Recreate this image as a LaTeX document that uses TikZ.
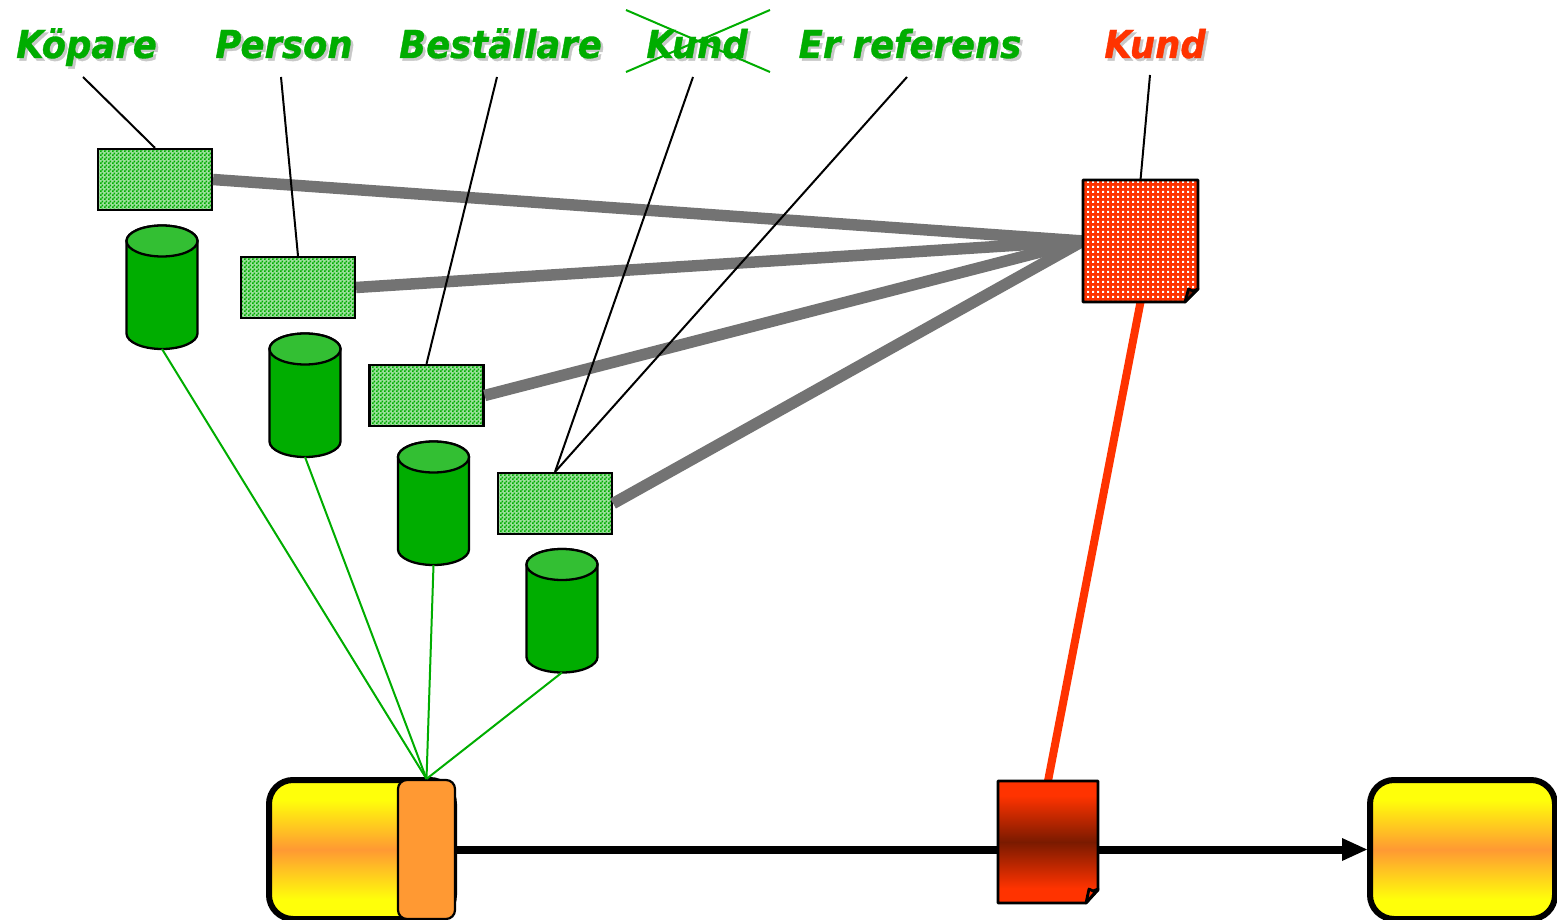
\documentclass[tikz,border=0pt]{standalone}
\usepackage{fontspec}
\newfontfamily\labfont[FakeStretch=0.92,FakeBold=0.9]{DejaVu Sans}
\usetikzlibrary{patterns}
\definecolor{gr}{HTML}{00AD00}
\definecolor{grt}{HTML}{33BF33}
\definecolor{rd}{HTML}{FF3300}
\definecolor{drk}{HTML}{7A1A00}
\definecolor{org}{HTML}{FF9933}
\definecolor{yel}{HTML}{FFFF0A}
\definecolor{gry}{HTML}{737373}
\definecolor{shad}{HTML}{C8C8C8}
\definecolor{paleg}{HTML}{9CE09C}
\pgfdeclareverticalshading{yobar}{100bp}{color(0bp)=(yel); color(32bp)=(yel); color(50bp)=(org); color(68bp)=(yel); color(100bp)=(yel)}
\pgfdeclareverticalshading{rdbar}{100bp}{color(0bp)=(rd); color(31bp)=(rd); color(50bp)=(drk); color(69bp)=(rd); color(100bp)=(rd)}
\pgfdeclarepatternformonly{checker}{\pgfqpoint{0pt}{0pt}}{\pgfqpoint{4pt}{4pt}}{\pgfqpoint{4pt}{4pt}}{%
  \pgfpathrectangle{\pgfqpoint{0pt}{0pt}}{\pgfqpoint{2pt}{2pt}}%
  \pgfpathrectangle{\pgfqpoint{2pt}{2pt}}{\pgfqpoint{2pt}{2pt}}%
  \pgfusepath{fill}}
\pgfdeclarepatternformonly{whitedots}{\pgfqpoint{0pt}{0pt}}{\pgfqpoint{4.6pt}{4.6pt}}{\pgfqpoint{4.6pt}{4.6pt}}{%
  \pgfpathrectangle{\pgfqpoint{1.3pt}{1.3pt}}{\pgfqpoint{2.1pt}{2.1pt}}%
  \pgfusepath{fill}}
\newcommand{\shtext}[1]{\rlap{\hspace{2.6pt}\raisebox{-2.6pt}{\textcolor{shad}{#1}}}#1}
\tikzset{
  x=1pt,y=-1pt,
  lab/.style={font=\labfont\bfseries\itshape\fontsize{38.5}{38.5}\selectfont,text=gr,inner sep=0pt,anchor=base},
  rectbox/.style={draw=black,line width=2.2pt,minimum width=114pt,minimum height=61pt,inner sep=0pt,preaction={fill=paleg},pattern=checker,pattern color=gr,anchor=center},
  ghost/.style={inner sep=0pt,outer sep=0pt,anchor=center},
  tick/.style={draw=black,line width=2pt},
  thickgray/.style={draw=gry,line width=11.5pt},
  greenline/.style={draw=gr,line width=2pt},
  cylside/.style={draw=black,line width=2.3pt,fill=gr},
  cyltop/.style={draw=black,line width=2.3pt,fill=grt},
  proc/.style={draw=black,line width=6pt,rounded corners=24pt,minimum height=139pt,inner sep=0pt,anchor=center,shading=yobar},
  hubbox/.style={draw=black,line width=2.2pt,rounded corners=9pt,fill=org,minimum width=57pt,minimum height=139pt,inner sep=0pt,anchor=center},
  outline/.style={draw=black,line width=2.8pt,line join=round},
}
% \cyl{name}{cx}{top}  72 wide, 124 tall
\newcommand{\cyl}[3]{%
  \node[ghost,minimum width=71pt,minimum height=123pt] (#1) at (#2,#3+62) {};
  \path[cylside] (#2-35.5,#3+15.5) -- (#2-35.5,#3+108) arc[start angle=180,end angle=360,x radius=35.5pt,y radius=15.5pt] -- (#2+35.5,#3+15.5) arc[start angle=0,end angle=180,x radius=35.5pt,y radius=15.5pt] -- cycle;
  \path[cyltop] (#2,#3+15.5) ellipse[x radius=35.5pt,y radius=15.5pt];
}
\begin{document}
\begin{tikzpicture}
\useasboundingbox (0,0) rectangle (1557,920);
% label nodes
\node[lab] (l1) at (86.5,58) {\shtext{Köpare}};
\node[lab] (l2) at (284,58) {\shtext{Person}};
\node[lab] (l3) at (500.5,58) {\shtext{Beställare}};
\node[lab] (l4) at (697,58) {\shtext{Kund}};
\node[lab] (l5) at (910,58) {\shtext{Er referens}};
\node[lab,text=rd] (l6) at (1155,58) {\shtext{Kund}};
\coordinate (t1) at (83,77);
\coordinate (t2) at (281,77);
\coordinate (t3) at (497,77);
\coordinate (t4) at (693,77);
\coordinate (t5) at (907,77);
\coordinate (t6) at (1150,75);
\coordinate (x1) at (626,10);
\coordinate (x2) at (770,72);
\coordinate (x3) at (626,72);
\coordinate (x4) at (770,10);
\draw[greenline] (x1) -- (x2);
\draw[greenline] (x3) -- (x4);
% placement of main nodes
\node[ghost,minimum width=115pt,minimum height=122pt] (doc) at (1140.5,241) {};
\node[ghost,minimum width=100pt,minimum height=122pt] (doc2) at (1048,842) {};
\node[rectbox] (r1) at (155,179.5) {};
\node[rectbox] (r2) at (298,287.5) {};
\node[rectbox] (r3) at (426.5,395.5) {};
\node[rectbox] (r4) at (555,503.5) {};
\node[proc,minimum width=185pt] (p1) at (361.5,849.5) {};
\node[proc,minimum width=185pt] (p2) at (1462.5,849.5) {};
\node[hubbox] (hub) at (426.5,849.5) {};
% connectors
\draw[thickgray] (r1.east) -- (doc.west);
\draw[thickgray] (r2.east) -- (doc.west);
\draw[thickgray] (r3.east) -- (doc.west);
\draw[thickgray] (r4.east) -- (doc.west);
\draw[tick] (t1) -- (r1.north);
\draw[tick] (t2) -- (r2.north);
\draw[tick] (t3) -- (r3.north);
\draw[tick] (t4) -- (r4.north);
\draw[tick] (t5) -- (r4.north);
\draw[tick] (t6) -- (doc.north);
\draw[draw=rd,line width=8pt] (doc.south) -- (doc2.north);
\draw[draw=black,line width=8pt] (hub.east) -- (hub.east -| doc2.west);
\coordinate (arrowbase) at (1343,849.5);
\draw[draw=black,line width=8pt] (arrowbase -| doc2.east) -- (arrowbase);
\path[fill=black] (1342,838) -- (p2.west) -- (1342,861) -- cycle;
% red document
\fill[rd] (doc.north west) -- (doc.north east) -- ([yshift=13pt]doc.south east) -- ([xshift=-13pt]doc.south east) -- (doc.south west) -- cycle;
\fill[pattern=whitedots,pattern color=white] (doc.north west) -- (doc.north east) -- ([yshift=13pt]doc.south east) -- ([xshift=-13pt]doc.south east) -- (doc.south west) -- cycle;
\draw[outline] (doc.north west) -- (doc.north east) -- ([yshift=13pt]doc.south east) -- ([xshift=-13pt]doc.south east) -- (doc.south west) -- cycle;
\draw[outline,fill=drk] ([xshift=-13pt]doc.south east) -- ([xshift=-9.5pt,yshift=13pt]doc.south east) -- ([xshift=-5pt,yshift=11pt]doc.south east) -- ([yshift=13pt]doc.south east) -- cycle;
% shaded document
\path[outline,shading=rdbar,draw=black] (doc2.north west) -- (doc2.north east) -- ([yshift=13pt]doc2.south east) -- ([xshift=-12pt]doc2.south east) -- (doc2.south west) -- cycle;
\draw[outline,fill=rd] ([xshift=-12pt]doc2.south east) -- ([xshift=-9pt,yshift=14pt]doc2.south east) -- ([xshift=-5pt,yshift=12pt]doc2.south east) -- ([yshift=14pt]doc2.south east) -- cycle;
% cylinders
\cyl{c1}{162}{225.5}
\cyl{c2}{305}{333.5}
\cyl{c3}{433.5}{441.5}
\cyl{c4}{562}{549}
\draw[greenline] (c1.south) -- (hub.north);
\draw[greenline] (c2.south) -- (hub.north);
\draw[greenline] (c3.south) -- (hub.north);
\draw[greenline] (c4.south) -- (hub.north);
\end{tikzpicture}
\end{document}
